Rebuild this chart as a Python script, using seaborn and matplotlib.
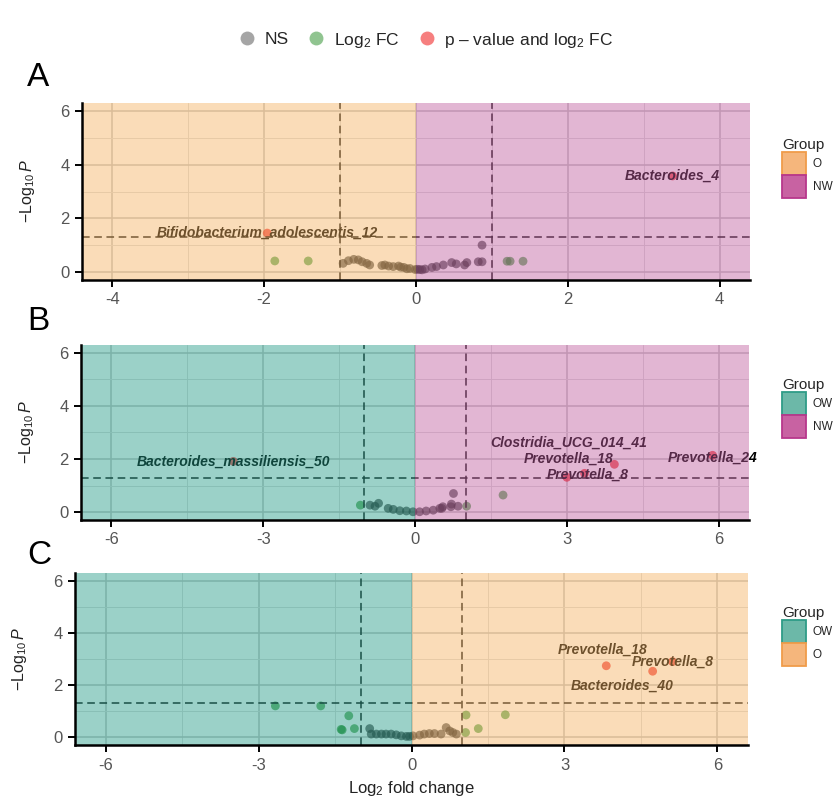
import numpy as np
import pandas as pd
import matplotlib
matplotlib.use('Agg')
import matplotlib.pyplot as plt
import seaborn as sns
from matplotlib.patches import Patch
from matplotlib.lines import Line2D

sns.set_theme(style='white')
plt.rcParams['font.family'] = ['Liberation Sans', 'DejaVu Sans']
plt.rcParams['mathtext.fontset'] = 'custom'
plt.rcParams['mathtext.rm'] = 'Liberation Sans'
plt.rcParams['mathtext.it'] = 'Liberation Sans:italic'

# ---------------- panel A : O vs NW ----------------
a_ns_x = [-0.96, -0.89, -0.82, -0.76, -0.71, -0.65, -0.61, -0.45, -0.41, -0.36, -0.30,
          -0.23, -0.20, -0.16, -0.12, -0.08, -0.01, 0.02, 0.05, 0.08, 0.12, 0.21, 0.27,
          0.36, 0.47, 0.53, 0.64, 0.67, 0.82, 0.87, 0.87]
a_ns_y = [0.32, 0.42, 0.47, 0.45, 0.38, 0.32, 0.26, 0.24, 0.26, 0.22, 0.20,
          0.22, 0.18, 0.17, 0.12, 0.13, 0.09, 0.10, 0.09, 0.08, 0.11, 0.17, 0.20,
          0.26, 0.35, 0.30, 0.26, 0.35, 0.38, 0.38, 1.00]
a_fc_x = [-1.86, -1.42, 1.20, 1.24, 1.41]
a_fc_y = [0.41, 0.41, 0.40, 0.40, 0.40]
a_sig_x = [-1.96, 3.38]
a_sig_y = [1.45, 3.58]
a_sig_lab = ['Bifidobacterium_adolescentis_12', 'Bacteroides_4']
a_groups = ['O', 'NW']

# ---------------- panel B : OW vs NW ----------------
b_ns_x = [-0.89, -0.79, -0.72, -0.53, -0.43, -0.30, -0.17, -0.04, 0.09, 0.22,
          0.36, 0.49, 0.53, 0.55, 0.71, 0.72, 0.76, 0.85]
b_ns_y = [0.26, 0.22, 0.33, 0.14, 0.10, 0.05, 0.04, 0.01, 0.01, 0.04,
          0.07, 0.14, 0.14, 0.20, 0.20, 0.30, 0.70, 0.22]
b_fc_x = [-1.08, 1.02, 1.74]
b_fc_y = [0.26, 0.22, 0.64]
b_sig_x = [-3.59, 3.94, 3.35, 3.00, 5.88]
b_sig_y = [1.91, 1.80, 1.46, 1.31, 2.14]
b_sig_lab = ['Bacteroides_massiliensis_50', 'Clostridia_UCG_014_41', 'Prevotella_18',
             'Prevotella_8', 'Prevotella_24']
b_groups = ['OW', 'NW']

# ---------------- panel C : OW vs O ----------------
c_ns_x = [-0.82, -0.79, -0.69, -0.59, -0.50, -0.40, -0.30, -0.20, -0.10, -0.04,
          0.03, 0.16, 0.25, 0.35, 0.45, 0.58, 0.68, 0.75, 0.81, 0.88]
c_ns_y = [0.33, 0.12, 0.12, 0.12, 0.12, 0.12, 0.09, 0.05, 0.03, 0.03,
          0.05, 0.08, 0.12, 0.14, 0.14, 0.12, 0.37, 0.24, 0.18, 0.12]
c_fc_x = [-2.67, -1.78, -1.23, -1.36, -1.38, -1.12, 1.07, 1.06, 1.31, 1.84]
c_fc_y = [1.20, 1.20, 0.82, 0.28, 0.30, 0.33, 0.85, 0.18, 0.33, 0.86]
c_sig_x = [3.82, 5.12, 4.73]
c_sig_y = [2.74, 2.90, 2.53]
c_sig_lab = ['Prevotella_18', 'Prevotella_8', 'Bacteroides_40']
c_groups = ['OW', 'O']

# label nudges in pixels (ggrepel-like placement)
a_nudge = [(0, 0), (0, 0)]
b_nudge = [(0, 0), (-46, 22), (-16, 15), (21, 3), (0, -2)]
c_nudge = [(-4, 16), (0, 0), (-30, -14)]

cat_pal = {'NS': '#262626', 'Log2 FC': 'forestgreen', 'p-value and log2 FC': '#ee0000'}
shade = {'O': '#f4b363', 'NW': '#bf5d9f', 'OW': '#239b87'}
leg_fill = {'O': '#f5b67c', 'NW': '#c862a2', 'OW': '#6cb8a8'}
leg_edge = {'O': '#f09c4a', 'NW': '#b8378c', 'OW': '#2e9c87'}


def make_df(ns_x, ns_y, fc_x, fc_y, sig_x, sig_y):
    return pd.DataFrame({
        'log2fc': ns_x + fc_x + sig_x,
        'p': ns_y + fc_y + sig_y,
        'cat': ['NS'] * len(ns_x) + ['Log2 FC'] * len(fc_x) + ['p-value and log2 FC'] * len(sig_x)
    })


def volcano(ax, df, sig_x, sig_y, labels, nudges, groups, lim, major, minor, legend_xy):
    sns.scatterplot(data=df, x='log2fc', y='p', hue='cat', palette=cat_pal,
                    s=40, alpha=0.65, edgecolor='none', legend=False, ax=ax, zorder=2)
    for x, y, lab, (dx, dy) in zip(sig_x, sig_y, labels, nudges):
        ax.annotate(lab, (x, y), xytext=(dx, dy), textcoords='offset pixels',
                    ha='center', va='center', fontsize=10, fontweight='bold',
                    fontstyle='italic', color='black', zorder=2.5)
    for v in (-1, 1):
        ax.axvline(v, color='#111111', ls=(0, (5, 3)), lw=1.1, zorder=2)
    ax.axhline(-np.log10(0.05), color='#111111', ls=(0, (5, 3)), lw=1.1, zorder=2)

    ax.axvspan(-lim - 1, 0, color=shade[groups[0]], alpha=0.45, lw=0, zorder=3)
    ax.axvspan(0, lim + 1, color=shade[groups[1]], alpha=0.45, lw=0, zorder=3)

    ax.set_xlim(-lim, lim)
    ax.set_ylim(-0.3, 6.3)
    ax.set_xticks(major)
    ax.set_xticks(minor, minor=True)
    ax.set_yticks([0, 2, 4, 6])
    ax.set_yticks([1, 3, 5], minor=True)
    ax.set_xticklabels([f'{t:g}' for t in major])
    ax.set_axisbelow(True)
    ax.grid(which='major', color='#c4c4c4', lw=1.1)
    ax.grid(which='minor', color='#dcdcdc', lw=0.7)
    ax.tick_params(which='major', axis='both', length=5, width=1.4, color='black',
                   labelsize=12, labelcolor='#555555', bottom=True, left=True, pad=4)
    ax.tick_params(which='minor', length=0)
    for side in ('top', 'right'):
        ax.spines[side].set_visible(False)
    for side in ('left', 'bottom'):
        ax.spines[side].set_color('black')
        ax.spines[side].set_linewidth(1.8)
        ax.spines[side].set_zorder(5)
    ax.set_xlabel('')
    ax.set_ylabel(r'$-\mathrm{Log}_{10}\,\mathit{P}$', fontsize=11.5, color='#222222')
    ax.yaxis.set_label_coords(-0.068, 0.5)

    handles = [Patch(facecolor=leg_fill[g], edgecolor=leg_edge[g], lw=1.3, label=g) for g in groups]
    ax.legend(handles=handles, title='Group', loc='upper left',
              bbox_to_anchor=legend_xy, bbox_transform=ax.figure.transFigure,
              frameon=False, fontsize=8.5, title_fontsize=11, alignment='left',
              handlelength=2.0, handleheight=2.6, labelspacing=0.0,
              handletextpad=0.6, borderpad=0)


fig = plt.figure(figsize=(8.35, 8.07), dpi=100)
W, H = 835, 807


def px_axes(l, t, r, b):
    return fig.add_axes([l / W, 1 - b / H, (r - l) / W, (b - t) / H])


ax_a = px_axes(82, 103, 750, 280)
ax_b = px_axes(81, 345, 749, 520)
ax_c = px_axes(75, 573, 748, 745)

volcano(ax_a, make_df(a_ns_x, a_ns_y, a_fc_x, a_fc_y, a_sig_x, a_sig_y),
        a_sig_x, a_sig_y, a_sig_lab, a_nudge, a_groups, 4.4,
        [-4, -2, 0, 2, 4], [-3, -1, 1, 3], (776 / W, 1 - 132 / H))
volcano(ax_b, make_df(b_ns_x, b_ns_y, b_fc_x, b_fc_y, b_sig_x, b_sig_y),
        b_sig_x, b_sig_y, b_sig_lab, b_nudge, b_groups, 6.6,
        [-6, -3, 0, 3, 6], [-4.5, -1.5, 1.5, 4.5], (776 / W, 1 - 372 / H))
volcano(ax_c, make_df(c_ns_x, c_ns_y, c_fc_x, c_fc_y, c_sig_x, c_sig_y),
        c_sig_x, c_sig_y, c_sig_lab, c_nudge, c_groups, 6.6,
        [-6, -3, 0, 3, 6], [-4.5, -1.5, 1.5, 4.5], (776 / W, 1 - 600 / H))

ax_c.set_xlabel(r'$\mathrm{Log}_{2}$ fold change', fontsize=12, color='#222222', labelpad=5)

# panel letters
for letter, y in zip(['A', 'B', 'C'], [77, 321, 555]):
    fig.text(27 / W, 1 - y / H, letter, fontsize=24, ha='left', va='center', color='black')

# top legend for significance categories
top_handles = [
    Line2D([], [], ls='', marker='o', markersize=10, markeredgewidth=0,
           markerfacecolor='#4d4d4d', alpha=0.5, label='NS'),
    Line2D([], [], ls='', marker='o', markersize=10, markeredgewidth=0,
           markerfacecolor='forestgreen', alpha=0.5, label=r'Log$_2$ FC'),
    Line2D([], [], ls='', marker='o', markersize=10, markeredgewidth=0,
           markerfacecolor='#ee0000', alpha=0.5, label=r'p – value and log$_2$ FC'),
]
fig.legend(handles=top_handles, loc='center', bbox_to_anchor=(425 / W, 1 - 40 / H),
           ncol=3, frameon=False, fontsize=12.5, handletextpad=0.4, columnspacing=1.0,
           handlelength=1.2)

fig.savefig('out.png', dpi=100)
